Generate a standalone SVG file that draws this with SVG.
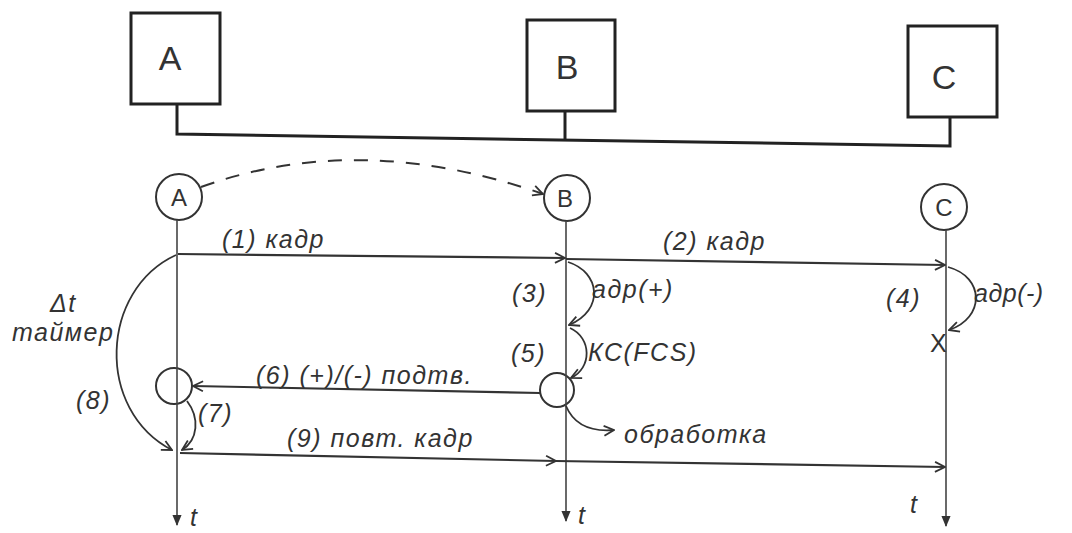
<svg xmlns="http://www.w3.org/2000/svg" width="1072" height="533" viewBox="0 0 1072 533">
  <style>
    .box { fill: #fff; stroke: #222; stroke-width: 3; }
    .node { fill: #fff; stroke: #333; stroke-width: 2; }
    .bus { fill: none; stroke: #222; stroke-width: 3; }
    .life { fill: none; stroke: #444; stroke-width: 1.6; }
    .msg { fill: none; stroke: #333; stroke-width: 2.2; }
    .curve { fill: none; stroke: #333; stroke-width: 1.8; }
    .dash { fill: none; stroke: #333; stroke-width: 2; stroke-dasharray: 14 12; }
    text { font-family: "Liberation Sans", "DejaVu Sans", sans-serif; fill: #333; font-style: italic; }
    .lbl { font-size: 25px; letter-spacing: 1.5px; }
    .big { font-size: 34px; font-style: normal; }
    .circ { font-size: 24px; font-style: normal; text-anchor: middle; }
  </style>
  <defs>
    <marker id="open" viewBox="0 0 12 12" refX="11" refY="6" markerWidth="12" markerHeight="12" markerUnits="userSpaceOnUse" orient="auto">
      <path d="M1,1 L11,6 L1,11" fill="none" stroke="#333" stroke-width="1.8"/>
    </marker>
    <marker id="solid" viewBox="0 0 12 12" refX="11" refY="6" markerWidth="11" markerHeight="14" markerUnits="userSpaceOnUse" orient="auto">
      <path d="M0,1 L12,6 L0,11 Z" fill="#333"/>
    </marker>
  </defs>

  <rect width="1072" height="533" fill="#fff"/>

  <!-- stations on the shared bus -->
  <g id="station-A">
    <rect class="box" x="131" y="13" width="89" height="91"/>
    <text class="big" x="170" y="70" text-anchor="middle">A</text>
  </g>
  <g id="station-B">
    <rect class="box" x="527" y="20" width="88" height="91"/>
    <text class="big" x="567" y="79" text-anchor="middle">B</text>
  </g>
  <g id="station-C">
    <rect class="box" x="908" y="26" width="89" height="91"/>
    <text class="big" x="944" y="89" text-anchor="middle">C</text>
  </g>
  <g id="bus">
    <path class="bus" d="M177,104 V134 L950,146 V117"/>
    <path class="bus" d="M565,111 V139"/>
  </g>

  <!-- time-axis heads -->
  <g id="node-A">
    <circle class="node" cx="179" cy="197" r="23"/>
    <text class="circ" x="179" y="206">A</text>
  </g>
  <g id="node-B">
    <circle class="node" cx="567" cy="198" r="23"/>
    <text class="circ" x="565" y="207">B</text>
  </g>
  <g id="node-C">
    <circle class="node" cx="944" cy="207" r="23"/>
    <text class="circ" x="944" y="216">C</text>
  </g>
  <g id="event-A">
    <circle class="node" cx="174" cy="386" r="18"/>
  </g>
  <g id="event-B">
    <circle class="node" cx="557" cy="390" r="17"/>
  </g>

  <g id="connectors">
    <!-- lifelines -->
    <path class="life" d="M177,220 V525" marker-end="url(#solid)"/>
    <path class="life" d="M566,221 V521" marker-end="url(#solid)"/>
    <path class="life" d="M946,230 V526" marker-end="url(#solid)"/>

    <!-- dashed addressing curve A to B -->
    <path class="dash" d="M201,187 Q360,130 543,194" marker-end="url(#open)"/>

    <!-- (1) and (2) frame -->
    <path class="msg" d="M178,254 L565,258" marker-end="url(#open)"/>
    <path class="msg" d="M566,259 L945,265" marker-end="url(#open)"/>

    <!-- (3) address check at B -->
    <path class="curve" d="M568,262 C600,272 605,310 569,325" marker-end="url(#open)"/>
    <!-- (5) FCS check at B -->
    <path class="curve" d="M570,328 C592,338 592,368 571,378" marker-end="url(#open)"/>
    <!-- processing -->
    <path class="curve" d="M566,406 C574,425 590,432 614,430" marker-end="url(#open)"/>

    <!-- (4) address check at C -->
    <path class="curve" d="M948,267 C985,277 985,318 949,330" marker-end="url(#open)"/>

    <!-- (6) acknowledgement -->
    <path class="msg" d="M540,393 L193,386" marker-end="url(#open)"/>

    <!-- (7) -->
    <path class="curve" d="M187,401 C200,418 198,440 182,450" marker-end="url(#open)"/>
    <!-- (8) timer -->
    <path class="curve" d="M176,255 C100,290 95,410 172,450" marker-end="url(#open)"/>

    <!-- (9) retransmitted frame -->
    <path class="msg" d="M180,453 L556,461" marker-end="url(#open)"/>
    <path class="msg" d="M556,461 L945,467" marker-end="url(#open)"/>
  </g>

  <!-- labels -->
  <g id="labels">
    <text class="lbl" x="222" y="248">(1)  кадр</text>
    <text class="lbl" x="663" y="250">(2)  кадр</text>
    <text class="lbl" x="512" y="302">(3)</text>
    <text class="lbl" x="592" y="298">адр(+)</text>
    <text class="lbl" x="886" y="307">(4)</text>
    <text class="lbl" x="974" y="302" style="letter-spacing:0.5px">адр(-)</text>
    <text class="lbl" x="930" y="352" style="font-style:normal">X</text>
    <text class="lbl" x="511" y="362">(5)</text>
    <text class="lbl" x="588" y="361">КС(FCS)</text>
    <text class="lbl" x="256" y="384">(6)  (+)/(-) подтв.</text>
    <text class="lbl" x="198" y="422">(7)</text>
    <text class="lbl" x="76" y="409">(8)</text>
    <text class="lbl" x="50" y="312">Δt</text>
    <text class="lbl" x="12" y="341">таймер</text>
    <text class="lbl" x="287" y="447">(9) повт. кадр</text>
    <text class="lbl" x="624" y="443">обработка</text>
    <text class="lbl" x="190" y="526">t</text>
    <text class="lbl" x="578" y="524">t</text>
    <text class="lbl" x="910" y="513">t</text>
  </g>
</svg>
